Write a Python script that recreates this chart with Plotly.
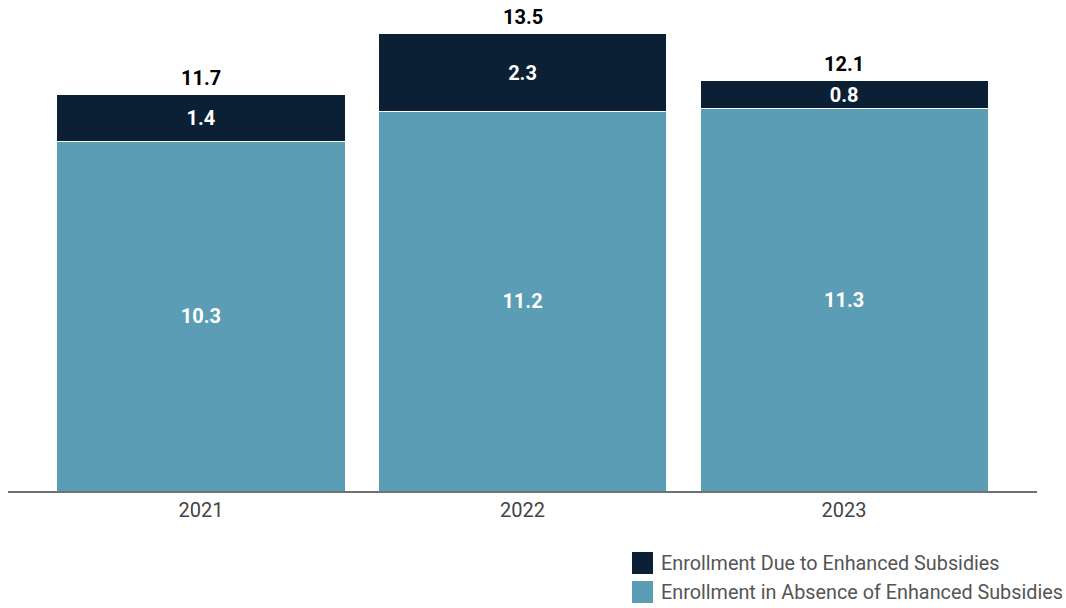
import plotly.graph_objects as go

years = ["2021", "2022", "2023"]
absence = [10.3, 11.2, 11.3]
enhanced = [1.4, 2.3, 0.8]
totals = [11.7, 13.5, 12.1]
series_names = ["Enrollment Due to Enhanced Subsidies",
                "Enrollment in Absence of Enhanced Subsidies"]

light = "#5B9DB5"
dark = "#0B2035"
font_family = "Roboto, Lato, sans-serif"

fig = go.Figure()
fig.add_bar(
    x=years, y=absence, name=series_names[1],
    marker=dict(color=light, line=dict(color="white", width=1)),
    text=[f"{v:.1f}" for v in absence], textposition="inside",
    insidetextanchor="middle", constraintext="none",
    textfont=dict(color="white", size=20, family=font_family, weight="bold"),
)
fig.add_bar(
    x=years, y=enhanced, name=series_names[0],
    marker=dict(color=dark, line=dict(color="white", width=1)),
    text=[f"{v:.1f}" for v in enhanced], textposition="inside",
    insidetextanchor="middle", constraintext="none",
    textfont=dict(color="white", size=20, family=font_family, weight="bold"),
)

# Totals above each stack (category index positions)
for i, t in enumerate(totals):
    fig.add_annotation(
        x=i, y=t, xref="x", yref="y", text=f"{t:.1f}", showarrow=False,
        yanchor="bottom", yshift=3,
        font=dict(color="black", size=20, family=font_family, weight="bold"),
    )

# Legend drawn as swatches with labels, lower right
W, H = 1066, 608
ml, mr, mt, mb = 8, 29, 20, 117
pw, ph = W - ml - mr, H - mt - mb
legend_rows = [(series_names[0], dark, 552), (series_names[1], light, 581)]
for name, col, top_px in legend_rows:
    x0 = (632 - ml) / pw
    x1 = (653 - ml) / pw
    yt = 1 - (top_px - mt) / ph
    yb = 1 - (top_px + 22 - mt) / ph
    fig.add_shape(type="rect", xref="paper", yref="paper", x0=x0, x1=x1,
                  y0=yb, y1=yt, fillcolor=col, line=dict(width=0))
    fig.add_annotation(xref="paper", yref="paper", x=(659 - ml) / pw,
                       y=(yt + yb) / 2, text=name, showarrow=False,
                       xanchor="left", yanchor="middle",
                       font=dict(color="#555555", size=19.8, family=font_family))

fig.update_layout(
    barmode="stack", bargap=0.104, showlegend=False,
    width=W, height=H, margin=dict(l=ml, r=mr, t=mt, b=mb),
    plot_bgcolor="white", paper_bgcolor="white",
    font=dict(family=font_family),
    uniformtext=dict(minsize=20, mode="show"),
    xaxis=dict(range=[-0.6, 2.6], showline=True, linecolor="#707070",
               linewidth=1.5, ticks="", tickfont=dict(size=20, color="#444444")),
    yaxis=dict(range=[0, 13.9], visible=False, showgrid=False),
)

fig.write_html("out.html")
